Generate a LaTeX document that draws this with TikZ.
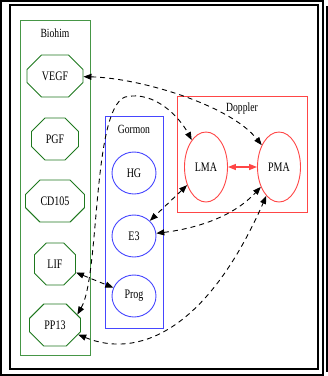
\documentclass[tikz,border=0pt]{standalone}
\usepackage{fontspec}
\setmainfont{Liberation Serif}[FakeStretch=0.77]
\usepackage{tikz}
\usetikzlibrary{arrows.meta,shapes.misc,shapes.geometric}
\definecolor{biogreen}{RGB}{70,150,70}
\definecolor{octgreen}{RGB}{30,120,30}
\definecolor{gorblue}{RGB}{70,70,255}
\definecolor{dopred}{RGB}{255,70,70}
\tikzset{
  frame/.style={black, line width=1.1pt},
  cluster/.style={line width=0.9pt},
  clab/.style={font=\fontsize{12.5}{14}\selectfont, inner sep=0pt},
  octa/.style={draw=octgreen, line width=0.9pt, chamfered rectangle,
               chamfered rectangle xsep=14pt, chamfered rectangle ysep=10pt,
               inner sep=0pt, minimum height=42pt,
               font=\fontsize{13}{15}\selectfont},
  egg/.style={draw=gorblue, line width=0.9pt, ellipse, inner sep=0pt,
              minimum width=44pt, minimum height=42pt,
              font=\fontsize{13}{15}\selectfont},
  oval/.style={draw=dopred, line width=0.9pt, ellipse, inner sep=0pt,
               minimum width=43pt, minimum height=70pt,
               font=\fontsize{13}{15}\selectfont},
  link/.style={{Triangle[length=8pt,width=6pt]}-{Triangle[length=8pt,width=6pt]},
               black, line width=0.9pt, dash pattern=on 5pt off 4pt},
  redlink/.style={{Triangle[length=8pt,width=6pt]}-{Triangle[length=8pt,width=6pt]},
                  dopred, line width=1.3pt},
}

\begin{document}
\begin{tikzpicture}[x=1pt,y=-1pt]
  \path[use as bounding box] (0,0) rectangle (328,376);

  % page frames
  \draw[frame] (1,1) rectangle (323,375);
  \draw[frame] (10,5) rectangle (318,369);
  \draw[frame] (327,6) -- (327,372);

  % Biohim cluster
  \draw[cluster, draw=biogreen] (20,20) rectangle (90,355);
  \node[clab] (biohim) at (55,33) {Biohim};
  \node[octa, minimum width=56pt] (VEGF) at (55,76) {VEGF};
  \node[octa, minimum width=47pt] (PGF) at (55,139) {PGF};
  \node[octa, minimum width=59pt] (CD105) at (55,201) {CD105};
  \node[octa, minimum width=41pt] (LIF) at (55,264) {LIF};
  \node[octa, minimum width=51pt] (PP13) at (55,325) {PP13};

  % Gormon cluster
  \draw[cluster, draw=gorblue] (105,116) rectangle (163,328);
  \node[clab] (gormon) at (134,129) {Gormon};
  \node[egg] (HG) at (134,173) {HG};
  \node[egg] (E3) at (134,236) {E3};
  \node[egg] (Prog) at (134,296) {Prog};

  % Doppler cluster
  \draw[cluster, draw=dopred] (177,96) rectangle (307,212);
  \node[clab] (doppler) at (242,108) {Doppler};
  \node[oval] (LMA) at (206,167) {LMA};
  \node[oval] (PMA) at (279,167) {PMA};

  % links
  \draw[link] (VEGF) .. controls (140,78) and (230,105) .. (PMA);
  \draw[link] (PP13.25) .. controls (100,275) and (92,110) .. (125,97)
              .. controls (155,90) and (180,118) .. (LMA);
  \draw[link] (LIF) -- (Prog);
  \draw[link] (LMA) -- (E3);
  \draw[link] (E3) .. controls (200,228) and (235,215) .. (PMA);
  \draw[link] (PP13) .. controls (135,358) and (205,335) .. (PMA);
  \draw[redlink] (LMA) -- (PMA);
\end{tikzpicture}
\end{document}
